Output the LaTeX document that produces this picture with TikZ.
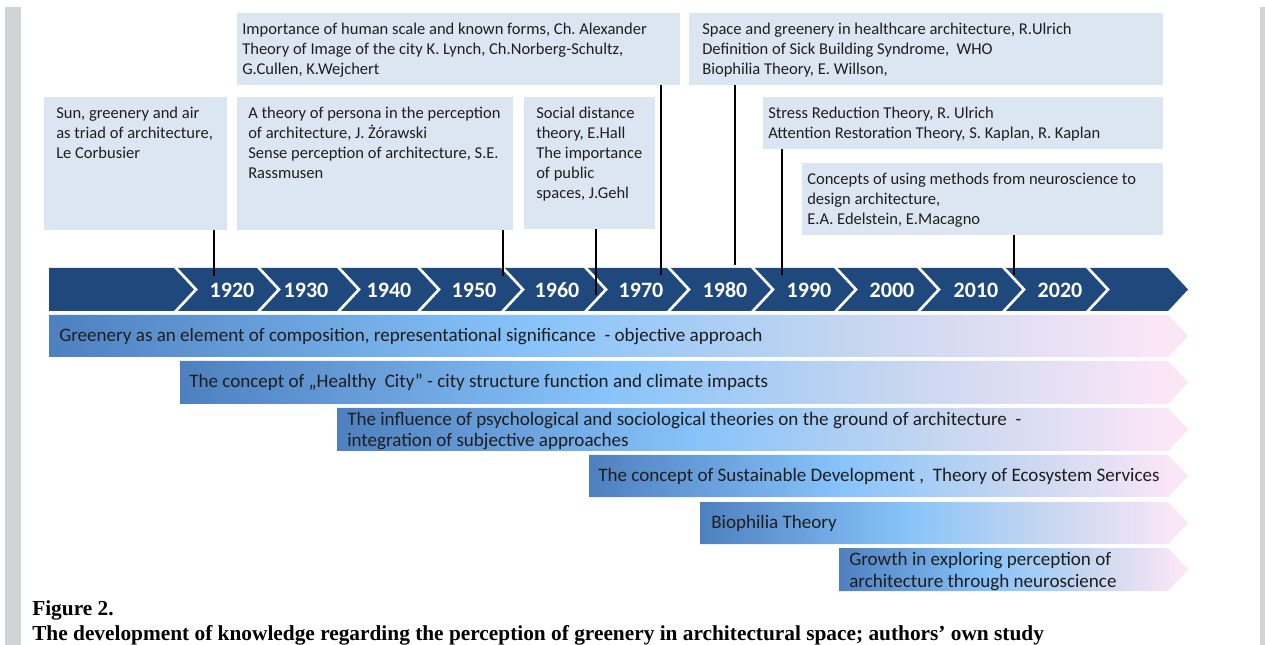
\documentclass[tikz,border=0pt]{standalone}
\usepackage{fontspec}
\setmainfont{Carlito}
\newfontfamily\capfont{Liberation Serif}
\usetikzlibrary{fit}
\frenchspacing
\definecolor{barblue}{RGB}{31,73,125}
\definecolor{boxfill}{RGB}{220,230,242}
\definecolor{stripgray}{RGB}{210,211,213}
\definecolor{bandA}{RGB}{78,128,192}
\definecolor{bandB}{RGB}{135,195,250}
\definecolor{bandC}{RGB}{200,215,240}
\definecolor{bandD}{RGB}{250,230,247}
\definecolor{txt}{RGB}{30,30,30}
\pgfdeclarehorizontalshading{bandshade}{100bp}{color(0bp)=(bandA); color(25bp)=(bandA); color(46bp)=(bandB); color(61bp)=(bandC); color(73.5bp)=(bandD); color(100bp)=(bandD)}
\begin{document}
\begin{tikzpicture}[x=0.75pt,y=-0.75pt,
  infobox/.style={fill=boxfill, draw=none, inner sep=0pt},
  boxtext/.style={anchor=base west, inner sep=0pt, align=left, text=txt, font=\fontsize{12.4pt}{15pt}\selectfont},
  yearlabel/.style={anchor=base, text=white, font=\bfseries\fontsize{16.5pt}{18pt}\selectfont, inner sep=0pt},
  sepline/.style={draw=white, line width=2pt, line join=miter},
  tickline/.style={draw=black, line width=1.3pt},
  band/.style={shading=bandshade, draw=none},
  bandtext/.style={anchor=base west, inner sep=0pt, align=left, text=txt, font=\fontsize{14.3pt}{16.5pt}\selectfont}]
\useasboundingbox (0,0) rectangle (1265,645);
\fill[white] (0,0) rectangle (1265,645);
\fill[stripgray] (5,7) rectangle (21,645);
\fill[stripgray] (1260,7) rectangle (1265,645);

% info boxes (text nodes anchored at the baseline of their last line)
\node[infobox, fit={(237,13) (680,85)}] (humanscale) {};
\node[boxtext] (humanscaletxt) at (242,75) {Importance of human scale and known forms, Ch. Alexander\\Theory of Image of the city K. Lynch, Ch.Norberg-Schultz,\\G.Cullen, K.Wejchert};
\node[infobox, fit={(689,13) (1163,85)}] (health) {};
\node[boxtext] (healthtxt) at (702,75) {Space and greenery in healthcare architecture, R.Ulrich\\Definition of Sick Building Syndrome,~ WHO\\Biophilia Theory, E. Willson,};
\node[infobox, fit={(44,97) (227,230)}] (corb) {};
\node[boxtext] (corbtxt) at (56,159) {Sun, greenery and air\\as triad of architecture,\\Le Corbusier};
\node[infobox, fit={(237,97) (513,230)}] (persona) {};
\node[boxtext] (personatxt) at (248,179) {A theory of persona in the perception\\of architecture, J. Żórawski\\Sense perception of architecture, S.E.\\Rassmusen};
\node[infobox, fit={(524,97) (655,229)}] (social) {};
\node[boxtext] (socialtxt) at (536,199) {Social distance\\theory, E.Hall\\The importance\\of public\\spaces, J.Gehl};
\node[infobox, fit={(763,97) (1163,149)}] (stress) {};
\node[boxtext] (stresstxt) at (768,139) {Stress Reduction Theory, R. Ulrich\\Attention Restoration Theory, S. Kaplan, R. Kaplan};
\node[infobox, fit={(802,163) (1163,235)}] (neuro) {};
\node[boxtext] (neurotxt) at (807,225) {Concepts of using methods from neuroscience to\\design architecture,\\E.A. Edelstein, E.Macagno};

% timeline bar
\fill[barblue] (49,268) -- (1168,268) -- (1188,289.5) -- (1168,311) -- (49,311) -- cycle;
\foreach \sx in {175,258,338,418,502,585,668,752,835,918,1003,1087}
  \draw[sepline] (\sx,267) -- (\sx+21,289.5) -- (\sx,312);
\foreach \yx/\yr in {232/1920,306/1930,389/1940,474/1950,557/1960,641/1970,725/1980,809/1990,892/2000,976/2010,1060/2020}
  \node[yearlabel] (y\yr) at (\yx,298) {\yr};

% connectors
\coordinate (t1920) at (214,276);
\coordinate (t1950) at (503,276);
\coordinate (t1960) at (596,295);
\coordinate (t1970) at (661,275);
\coordinate (t1980) at (735,265);
\coordinate (t1990) at (782,275);
\coordinate (t2020) at (1014,275);
\draw[tickline] (corb.south -| t1920) -- (t1920);
\draw[tickline] (persona.south -| t1950) -- (t1950);
\draw[tickline] (social.south -| t1960) -- (t1960);
\draw[tickline] (humanscale.south -| t1970) -- (t1970);
\draw[tickline] (health.south -| t1980) -- (t1980);
\draw[tickline] (stress.south -| t1990) -- (t1990);
\draw[tickline] (neuro.south -| t2020) -- (t2020);

% bands
\path[band] (49,315) -- (1168,315) -- (1188,336) -- (1168,357) -- (49,357) -- cycle;
\node[bandtext] (b1) at (59,342) {Greenery as an element of composition, representational significance~ - objective approach};
\path[band] (180,361) -- (1168,361) -- (1188,382.5) -- (1168,404) -- (180,404) -- cycle;
\node[bandtext] (b2) at (189,388) {The concept of „Healthy~ City" - city structure function and climate impacts};
\path[band] (337,408) -- (1168,408) -- (1188,429.5) -- (1168,451) -- (337,451) -- cycle;
\node[bandtext] (b3) at (347,447) {The influence of psychological and sociological theories on the ground of architecture~ -\\integration of subjective approaches};
\path[band] (589,455) -- (1168,455) -- (1188,476) -- (1168,497) -- (589,497) -- cycle;
\node[bandtext] (b4) at (598,482) {The concept of Sustainable Development ,~ Theory of Ecosystem Services};
\path[band] (700,502) -- (1168,502) -- (1188,523) -- (1168,544) -- (700,544) -- cycle;
\node[bandtext] (b5) at (711,528) {Biophilia Theory};
\path[band] (839,548) -- (1168,548) -- (1188,569.5) -- (1168,591) -- (839,591) -- cycle;
\node[bandtext] (b6) at (849,587) {Growth in exploring perception of\\architecture through neuroscience};

% caption
\node[anchor=base west, inner sep=0pt, align=left, font=\capfont\bfseries\fontsize{16pt}{18.75pt}\selectfont] (caption) at (32,640) {Figure 2.\\The development of knowledge regarding the perception of greenery in architectural space; authors’ own study};
\end{tikzpicture}
\end{document}
